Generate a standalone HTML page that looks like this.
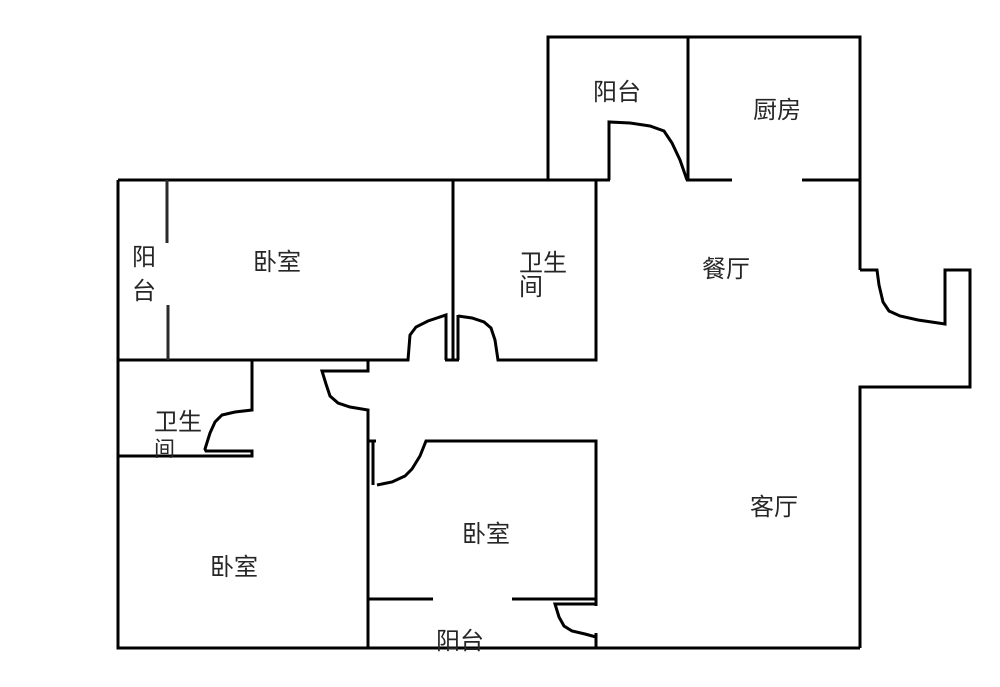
<!DOCTYPE html>
<html lang="zh"><head><meta charset="utf-8"><style>
html,body{margin:0;padding:0;background:#fff;width:1000px;height:687px;overflow:hidden}
svg{display:block}
text{font-family:"Liberation Sans","WenQuanYi Zen Hei","Noto Sans CJK SC",sans-serif;font-size:24px;fill:#262626}
</style></head><body>
<svg width="1000" height="687" viewBox="0 0 1000 687" xmlns="http://www.w3.org/2000/svg">
<g fill="none" stroke="#000" stroke-width="3">
<path d="M118 180H610M609 180V122L630 123L650 126L664 131L672 143L680 160L687 180M548 180V37H860V270M688 37V180M686 180H732M802 180H860"/>
<path d="M860 270H877L879 285L883 302L889 311L900 316L918 320L945 324V270H970V387H860V648"/>
<path d="M118 180V648H860M118 360H408L410 335L416 327L428 321L446 315V360M453 180V360M458 315V360M445 360H459"/>
<path d="M458 316L472 318L484 322L491 328L495 340L498 360H596V180"/>
<path d="M252 360V410L235 412L222 415L215 422L210 433L205 449L206 451H252V456H118"/>
<path d="M368 360V371H322L326 384L330 396L338 403L350 407L368 410V648"/>
<path d="M373 441V485M368 441H376M377 485L392 482L405 476L412 469L420 456L426 441H596V606M368 599H433M512 599H596"/>
<path d="M596 604H555L559 617L564 626L572 631L585 634L596 637M596 633V648"/>
</g>
<g fill="none" stroke="#2a2a2a" stroke-width="3">
<path d="M167 180V243M168 305V360"/>
</g>
<text x="593" y="100">阳台</text>
<text x="753" y="118">厨房</text>
<text x="253" y="270">卧室</text>
<text x="519" y="271">卫生</text>
<text x="519" y="295">间</text>
<text x="702" y="277">餐厅</text>
<text x="750" y="515">客厅</text>
<text x="462" y="542">卧室</text>
<text x="210" y="575">卧室</text>
<text x="436" y="649">阳台</text>
<text x="154" y="430">卫生</text>
<text x="154" y="456" style="font-size:21px">间</text>
<text x="132" y="265">阳</text>
<text x="132" y="299">台</text>
</svg>
</body></html>
